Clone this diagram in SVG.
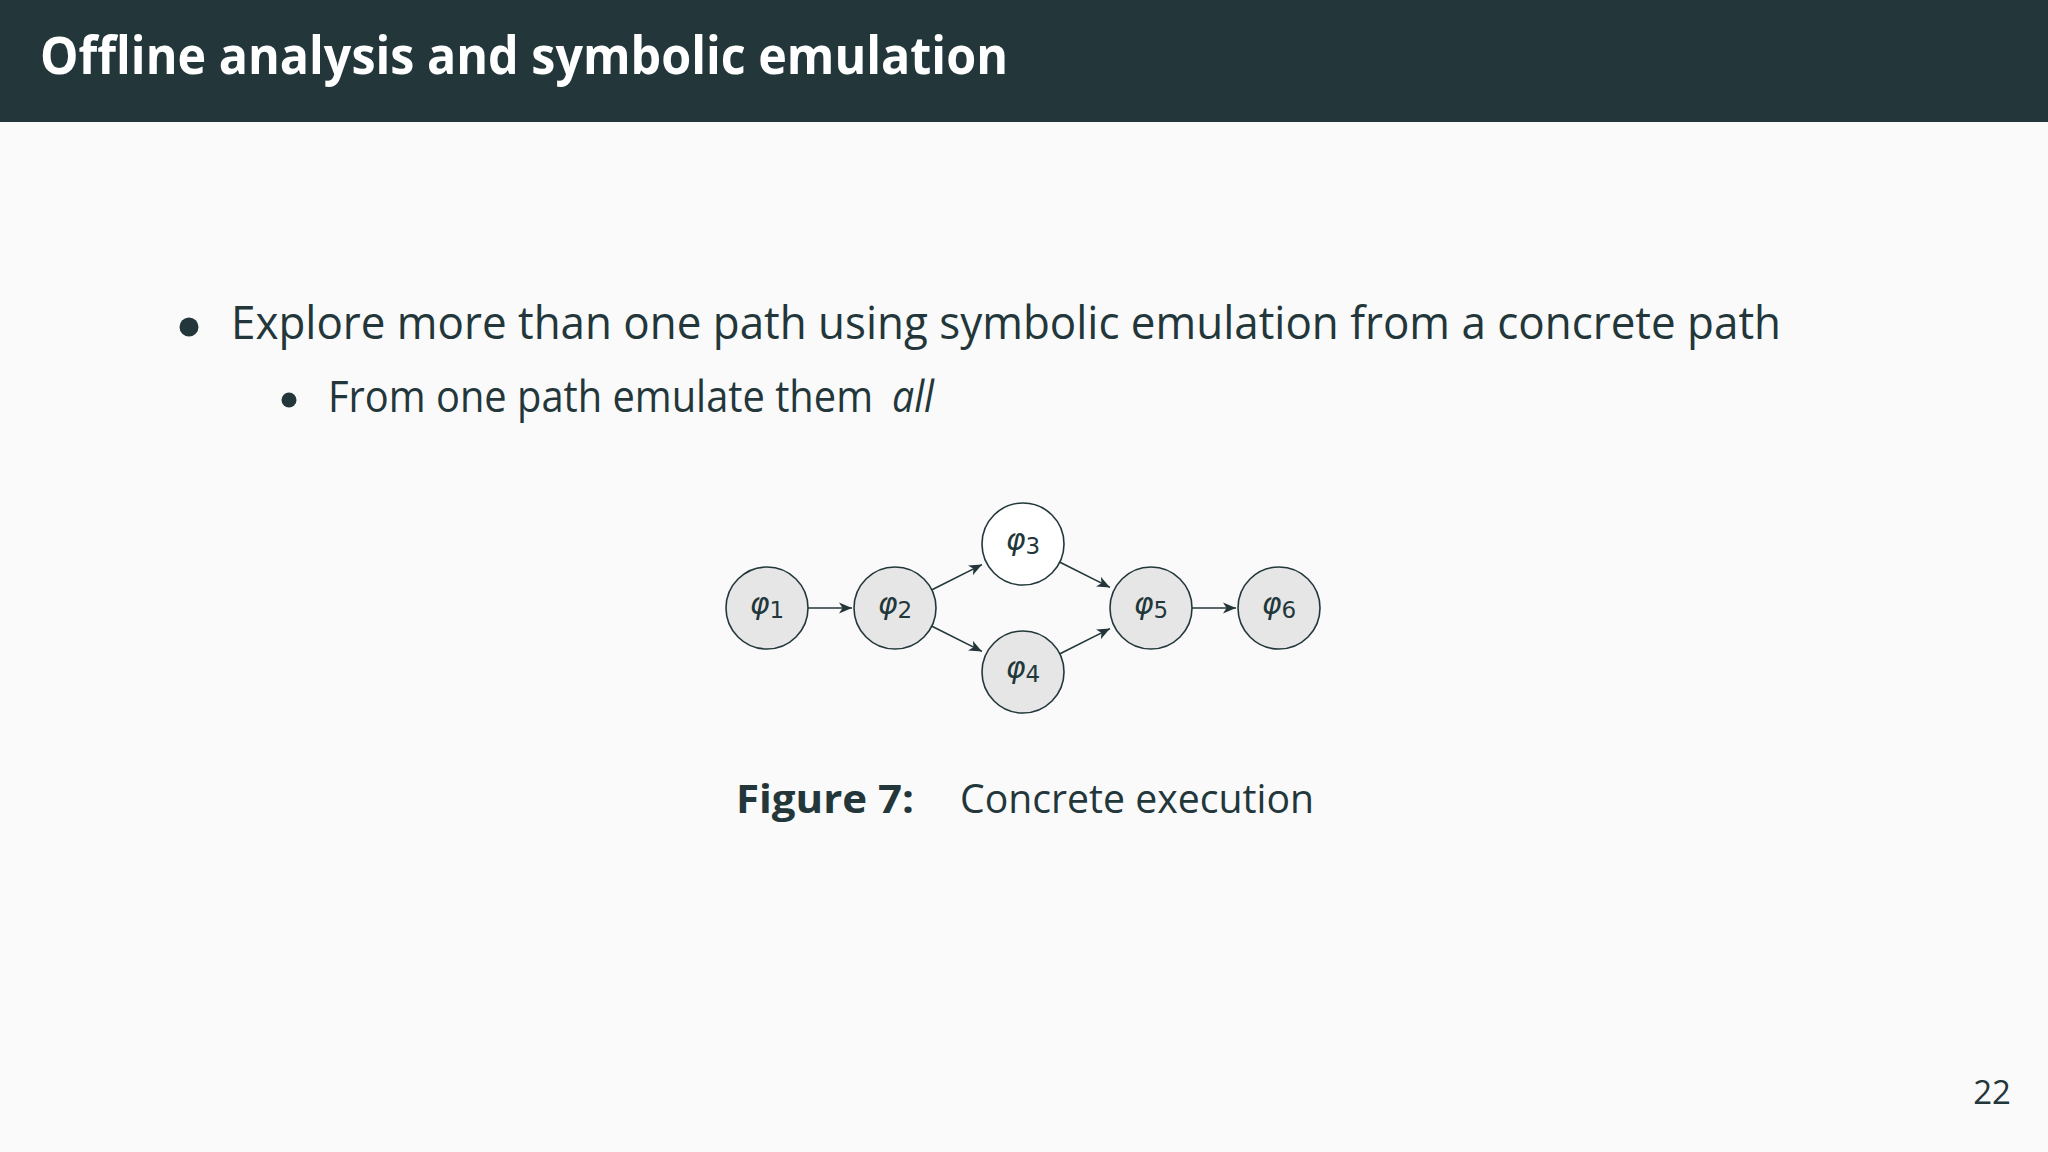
<svg xmlns="http://www.w3.org/2000/svg" width="2048" height="1152" viewBox="0 0 2048 1152">
<defs>
<style>
.body{font-family:"Open Sans","Liberation Sans",sans-serif;fill:#23373b}
.node{stroke:#23373b;stroke-width:1.6;fill:#e6e6e6}
.lbl{font-family:"DejaVu Sans",sans-serif;font-style:italic;font-size:30px;fill:#23373b}
.sub{font-style:normal;font-size:23px}
.edge{stroke:#23373b;stroke-width:1.6;fill:none;marker-end:url(#arr)}
</style>
<marker id="arr" markerUnits="userSpaceOnUse" markerWidth="14" markerHeight="12" refX="13" refY="6" orient="auto">
<path d="M0,0.5 L13,6 L0,11.5 L3.5,6 z" fill="#23373b"/>
</marker>
</defs>
<rect x="0" y="0" width="2048" height="1152" fill="#fafafa"/>
<rect x="0" y="0" width="2048" height="122" fill="#23373b"/>
<text x="40" y="74" font-family="'Open Sans','Liberation Sans',sans-serif" font-weight="bold" font-size="52" fill="#ffffff" textLength="968" lengthAdjust="spacingAndGlyphs">Offline analysis and symbolic emulation</text>

<circle cx="189" cy="327" r="9.5" fill="#23373b"/>
<text class="body" x="231" y="339" font-size="45" textLength="1550" lengthAdjust="spacingAndGlyphs">Explore more than one path using symbolic emulation from a concrete path</text>
<circle cx="289" cy="400" r="7.5" fill="#23373b"/>
<text class="body" x="328" y="412" font-size="43" textLength="545" lengthAdjust="spacingAndGlyphs">From one path emulate them</text>
<text class="body" x="892" y="412" font-size="43" font-style="italic" textLength="42" lengthAdjust="spacingAndGlyphs">all</text>

<g id="edges">
<line class="edge" x1="808" y1="608" x2="852" y2="608"/>
<line class="edge" x1="932" y1="589.7" x2="982" y2="564.6"/>
<line class="edge" x1="932" y1="626.3" x2="982" y2="651.4"/>
<line class="edge" x1="1060" y1="562.3" x2="1110" y2="587.4"/>
<line class="edge" x1="1060" y1="653.7" x2="1110" y2="628.6"/>
<line class="edge" x1="1192" y1="608" x2="1236" y2="608"/>
</g>

<g id="n1"><circle class="node" cx="767" cy="608" r="41"/><text class="lbl" x="767" y="614" text-anchor="middle">φ<tspan class="sub" dy="3.5">1</tspan></text></g>
<g id="n2"><circle class="node" cx="895" cy="608" r="41"/><text class="lbl" x="895" y="614" text-anchor="middle">φ<tspan class="sub" dy="3.5">2</tspan></text></g>
<g id="n3"><circle class="node" cx="1023" cy="544" r="41" style="fill:#ffffff"/><text class="lbl" x="1023" y="550" text-anchor="middle">φ<tspan class="sub" dy="3.5">3</tspan></text></g>
<g id="n4"><circle class="node" cx="1023" cy="672" r="41"/><text class="lbl" x="1023" y="678" text-anchor="middle">φ<tspan class="sub" dy="3.5">4</tspan></text></g>
<g id="n5"><circle class="node" cx="1151" cy="608" r="41"/><text class="lbl" x="1151" y="614" text-anchor="middle">φ<tspan class="sub" dy="3.5">5</tspan></text></g>
<g id="n6"><circle class="node" cx="1279" cy="608" r="41"/><text class="lbl" x="1279" y="614" text-anchor="middle">φ<tspan class="sub" dy="3.5">6</tspan></text></g>

<text class="body" x="736" y="813" font-size="40" font-weight="bold" textLength="178" lengthAdjust="spacingAndGlyphs">Figure 7:</text>
<text class="body" x="960" y="813" font-size="40" textLength="354" lengthAdjust="spacingAndGlyphs">Concrete execution</text>

<text class="body" x="2011" y="1104" font-size="33" text-anchor="end">22</text>
</svg>
